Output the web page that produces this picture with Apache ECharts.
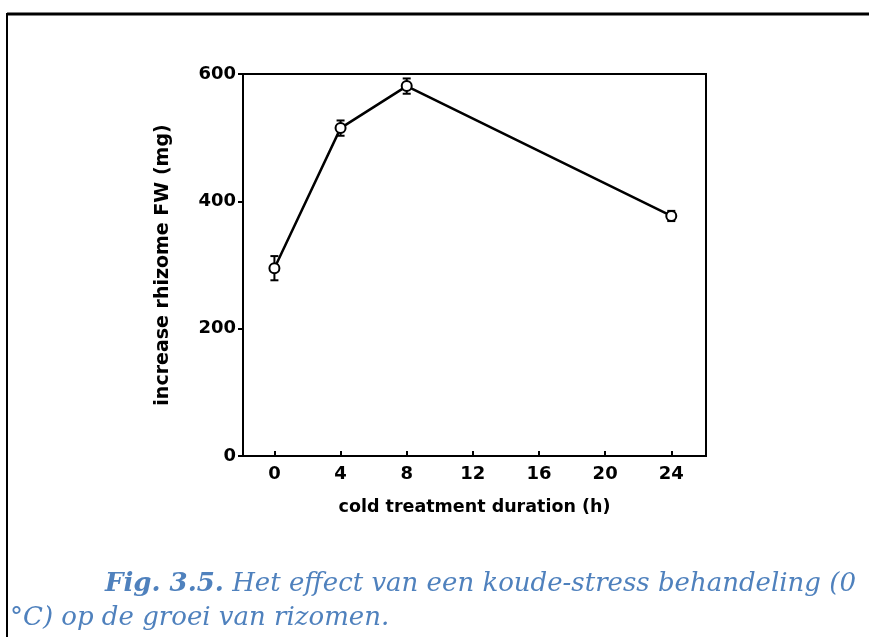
<!DOCTYPE html>
<html>
<head>
<meta charset="utf-8">
<script src="https://cdn.jsdelivr.net/npm/echarts@6/dist/echarts.min.js"></script>
<style>
  html, body { margin: 0; padding: 0; background: #fff; }
  #chart { width: 869px; height: 637px; }
</style>
</head>
<body>
<div id="chart"></div>
<script>
// cold treatment duration (h) and rhizome weight increase (mg)
const hours = [0, 4, 8, 24];
const weights = [295, 515, 581, 377];
const errors = [19, 12, 12, 8];
const xTicks = [0, 4, 8, 12, 16, 20, 24];

const chart = echarts.init(document.getElementById("chart"));

const points = hours.map((h, i) => [h, weights[i]]);
const errData = hours.map((h, i) => [h, weights[i] - errors[i], weights[i] + errors[i]]);

const axisFont = {
  color: "#000",
  fontFamily: "DejaVu Sans",
  fontWeight: "bold",
  fontSize: 18,
};

const option = {
  animation: false,
  backgroundColor: "#fff",
  grid: {
    left: 243,
    top: 74,
    width: 463,
    height: 382,
    show: true,
    borderColor: "#000",
    borderWidth: 2,
  },
  xAxis: {
    type: "value",
    min: -1.9,
    max: 26.1,
    name: "cold treatment duration (h)",
    nameLocation: "middle",
    nameGap: 42,
    nameTextStyle: { ...axisFont, fontSize: 17.5 },
    axisLine: { show: true, onZero: false, lineStyle: { color: "#000", width: 2 } },
    axisTick: {
      show: true,
      inside: true,
      length: 5,
      customValues: xTicks,
      lineStyle: { color: "#000", width: 2 },
    },
    axisLabel: { ...axisFont, margin: 9, customValues: xTicks },
    splitLine: { show: false },
  },
  yAxis: {
    type: "value",
    min: 0,
    max: 600,
    interval: 200,
    name: "increase rhizome FW (mg)",
    nameLocation: "middle",
    nameGap: 70,
    nameTextStyle: { ...axisFont, fontSize: 19 },
    axisLine: { show: true, onZero: false, lineStyle: { color: "#000", width: 2 } },
    axisTick: { show: true, length: 5, lineStyle: { color: "#000", width: 2 } },
    axisLabel: { ...axisFont, margin: 7 },
    splitLine: { show: false },
  },
  series: [
    {
      type: "custom",
      z: 1,
      data: errData,
      renderItem: (params, api) => {
        const lo = api.coord([api.value(0), api.value(1)]);
        const hi = api.coord([api.value(0), api.value(2)]);
        const cap = 4;
        const style = { stroke: "#000", lineWidth: 2 };
        return {
          type: "group",
          children: [
            { type: "line", shape: { x1: lo[0], y1: lo[1], x2: hi[0], y2: hi[1] }, style },
            { type: "line", shape: { x1: lo[0] - cap, y1: lo[1], x2: lo[0] + cap, y2: lo[1] }, style },
            { type: "line", shape: { x1: hi[0] - cap, y1: hi[1], x2: hi[0] + cap, y2: hi[1] }, style },
          ],
        };
      },
    },
    {
      type: "line",
      z: 2,
      data: points,
      symbol: "circle",
      symbolSize: 10,
      lineStyle: { color: "#000", width: 2.5 },
      itemStyle: { color: "#fff", borderColor: "#000", borderWidth: 2 },
    },
  ],
  graphic: [
    // outer frame around the figure
    { type: "line", shape: { x1: 7, y1: 14, x2: 869, y2: 14 }, style: { stroke: "#000", lineWidth: 3 } },
    { type: "line", shape: { x1: 7, y1: 13, x2: 7, y2: 637 }, style: { stroke: "#000", lineWidth: 2 } },
    {
      type: "text",
      left: 105,
      top: 571,
      style: {
        text: "{b|Fig. 3.5.} Het effect van een koude-stress behandeling (0",
        font: "italic 26px 'DejaVu Serif'",
        fill: "#4f81bd",
        rich: {
          b: { fontWeight: "bold", fontStyle: "italic", fontSize: 26, fontFamily: "DejaVu Serif", fill: "#4f81bd" },
        },
      },
    },
    {
      type: "text",
      left: 10,
      top: 605,
      style: {
        text: "°C) op de groei van rizomen.",
        font: "italic 26px 'DejaVu Serif'",
        fill: "#4f81bd",
      },
    },
  ],
};

chart.setOption(option);
</script>
</body>
</html>
